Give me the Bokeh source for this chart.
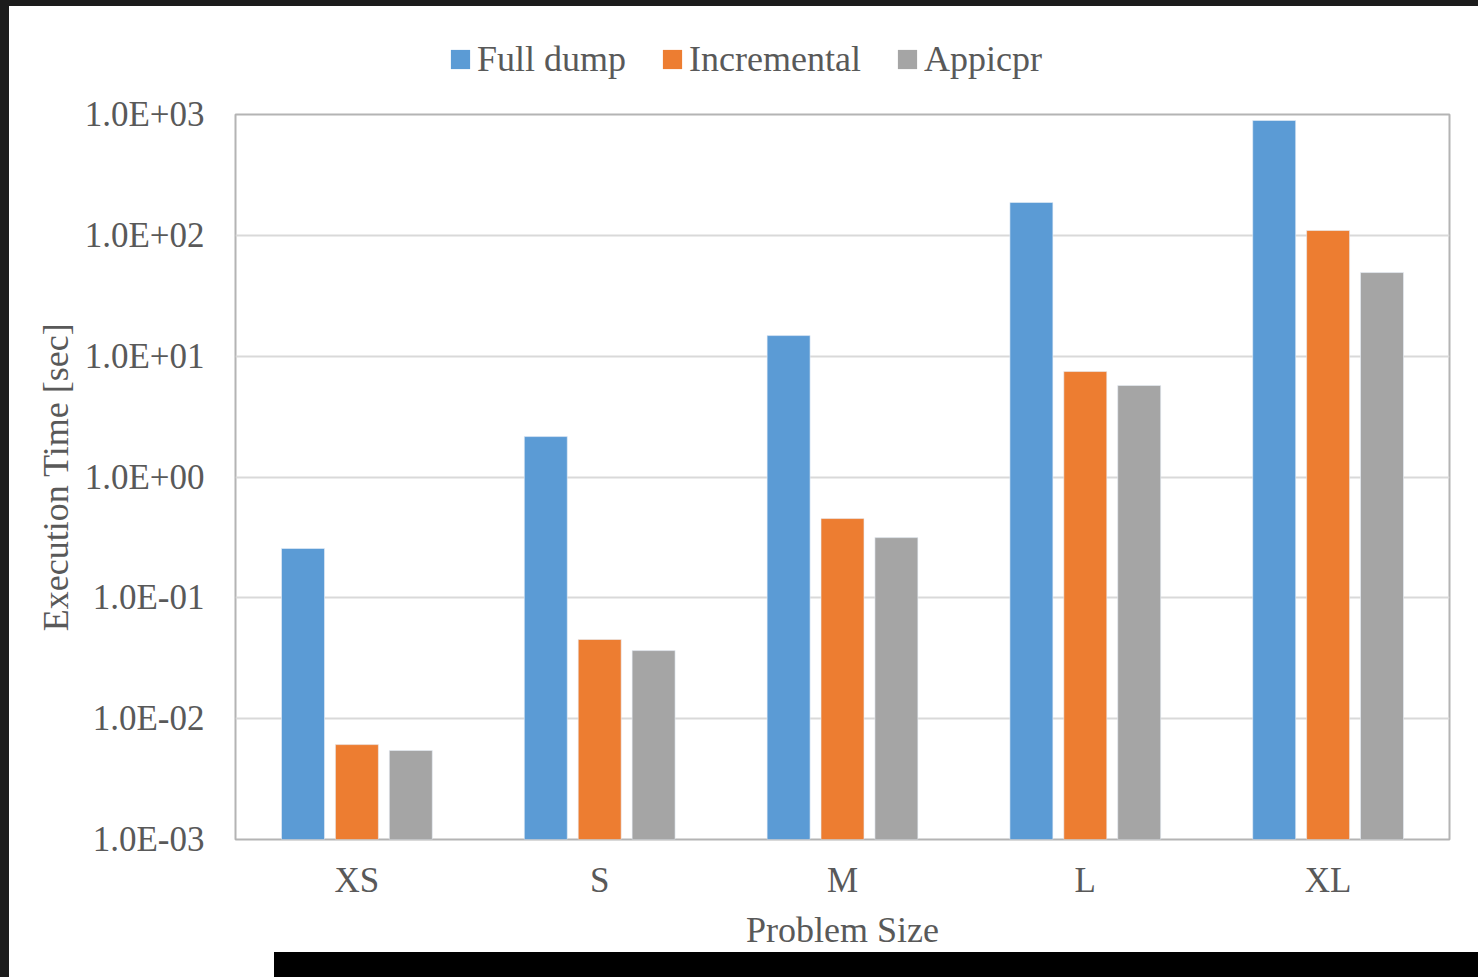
from bokeh.plotting import figure
from bokeh.models import (FactorRange, Range1d, FixedTicker, Legend, LegendItem,
                          ColumnDataSource, Div)
from bokeh.transform import dodge
from bokeh.layouts import column, row
from bokeh.embed import file_html
from bokeh.resources import INLINE

categories = ["XS", "S", "M", "L", "XL"]
full_dump = [0.256, 2.16, 14.8, 187, 892]
incremental = [0.0061, 0.0452, 0.453, 7.46, 109.6]
appicpr = [0.00545, 0.0366, 0.315, 5.72, 49.2]
series_names = ["Full dump", "Incremental", "Appicpr"]
colors = ["#5B9BD5", "#ED7D31", "#A5A5A5"]
y_ticks = [1e-3, 1e-2, 1e-1, 1e0, 1e1, 1e2, 1e3]
y_tick_labels = ["1.0E-03", "1.0E-02", "1.0E-01", "1.0E+00", "1.0E+01", "1.0E+02", "1.0E+03"]

FONT = "Liberation Serif"
TXT = "#595959"

# ---------- legend strip (own figure so nothing is clipped) ----------
lf = figure(width=1469, height=88, x_range=Range1d(0, 1), y_range=Range1d(0, 1),
            output_backend="svg", toolbar_location=None,
            x_axis_location=None, y_axis_location=None,
            min_border_left=0, min_border_right=0, min_border_top=0, min_border_bottom=0)
lf.frame_align = False
lf.outline_line_color = None
lf.grid.visible = False
lf.background_fill_color = "white"
lf.border_fill_color = "white"
leg_src = ColumnDataSource(dict(l=[-5.0], r=[-4.0], b=[-5.0], t=[-4.0]))
leg_renderers = [lf.quad(left="l", right="r", bottom="b", top="t", fill_color=c,
                         line_color=None, source=leg_src) for c in colors]
legend = Legend(items=[LegendItem(label=n, renderers=[r]) for n, r in zip(series_names, leg_renderers)],
                orientation="horizontal", location=(439, 14),
                label_text_font=FONT, label_text_font_size="36px",
                label_text_color=TXT, glyph_width=24, glyph_height=24,
                label_standoff=5, spacing=34, padding=0, margin=0,
                border_line_color=None, background_fill_alpha=0)
lf.add_layout(legend, "center")

# ---------- main chart ----------
src = ColumnDataSource(dict(cat=categories, full=full_dump, inc=incremental, app=appicpr))

p = figure(x_range=FactorRange(*categories), y_range=Range1d(1e-3, 1e3),
           y_axis_type="log", width=1469, height=858,
           output_backend="svg", toolbar_location=None,
           min_border_left=226, min_border_right=29, min_border_top=20,
           min_border_bottom=113)
p.frame_align = False
p.background_fill_color = "white"
p.border_fill_color = "white"
p.outline_line_color = "#b4b4b4"
p.outline_line_width = 2

offsets = [-0.222, 0.0, 0.222]
for key, off, col in zip(["full", "inc", "app"], offsets, colors):
    p.vbar(x=dodge("cat", off, range=p.x_range), top=key, bottom=1e-3,
           width=0.177, source=src, fill_color=col,
           line_color="#e8eef6", line_width=1, line_alpha=0.6)

p.x_range.range_padding = 0
p.x_range.group_padding = 0

p.yaxis.ticker = FixedTicker(ticks=y_ticks)
p.yaxis.major_label_overrides = {t: lab for t, lab in zip(y_ticks, y_tick_labels)}

for ax in (p.xaxis[0], p.yaxis[0]):
    ax.axis_line_color = None
    ax.major_tick_line_color = None
    ax.minor_tick_line_color = None
    ax.major_label_text_font = FONT
    ax.major_label_text_font_size = "35px"
    ax.major_label_text_color = TXT
    ax.axis_label_text_font = FONT
    ax.axis_label_text_font_size = "36px"
    ax.axis_label_text_color = TXT
    ax.axis_label_text_font_style = "normal"

p.yaxis.major_label_standoff = 25
p.yaxis.axis_label = "Execution Time [sec]"
p.yaxis.axis_label_standoff = 6
p.xaxis.major_label_standoff = 15
p.xaxis.axis_label = "Problem Size"
p.xaxis.axis_label_standoff = 7

p.xgrid.grid_line_color = None
p.ygrid.grid_line_color = "#d9d9d9"
p.ygrid.grid_line_width = 2

white = Div(width=265, height=25, margin=0, styles={"background-color": "white"})
band = Div(width=1204, height=25, margin=0, styles={"background-color": "black"})
layout = column(lf, p, row(white, band, spacing=0), spacing=0)

html = file_html(layout, INLINE)
html = html.replace("</head>", "<style>html{background-color:#1c1c1c !important;overflow:hidden !important;}"
                    "body{background-color:white !important;margin:6px 0 0 9px !important;"
                    "height:auto !important;overflow:hidden !important;}</style></head>", 1)
open("out.html", "w").write(html)
